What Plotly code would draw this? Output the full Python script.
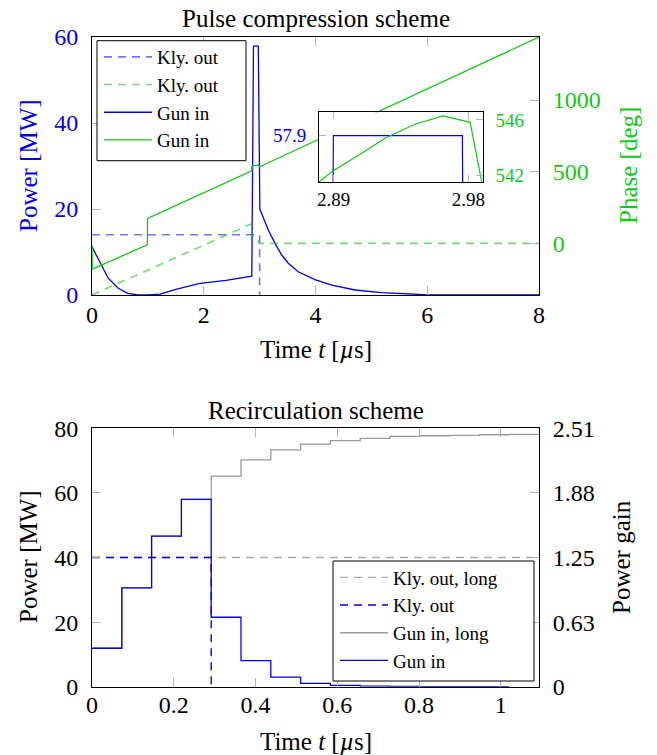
import plotly.graph_objects as go

# ---------------- Data: pulse compression scheme ----------------
kly_t = [0.0, 3.0, 3.0]
kly_power = [14.0, 14.0, 0.0]

kly_phase_t = [0.0, 2.86, 2.865, 2.93, 2.97, 2.99, 3.0, 8.0]
kly_phase = [-360.0, 137.0, 30.0, 27.0, 18.0, 5.0, 0.0, 0.0]

gun_power_t = [0.0, 0.17, 0.29, 0.47, 0.64, 0.82, 1.0, 1.22, 1.5, 1.93, 2.4, 2.86,
               2.8898, 2.976, 3.004, 3.155, 3.275, 3.395, 3.513, 3.69, 3.99, 4.29,
               4.71, 5.18, 5.6, 5.96, 6.5, 8.0]
gun_power = [11.2, 7.0, 3.9, 1.56, 0.4, 0.0, 0.0, 0.2, 1.3, 2.7, 3.4, 4.4,
             57.9, 57.9, 20.0, 15.1, 12.0, 9.3, 7.4, 5.4, 3.6, 2.3,
             1.16, 0.53, 0.23, 0.07, 0.0, 0.0]

gun_phase_t = [0.0, 0.003, 0.99, 0.995, 2.86, 2.862, 2.8802, 2.8898, 2.9076, 2.9255,
               2.9444, 2.963, 2.9812, 2.989, 3.0, 8.0]
gun_phase = [-12.0, -180.0, -10.0, 174.0, 507.0, 537.0, 541.57, 542.36, 543.54, 544.76,
             545.69, 546.29, 545.83, 541.53, 535.0, 1440.0]

top_x_ticks = [0, 2, 4, 6, 8]
top_y_ticks = [0, 20, 40, 60]
top_phase_ticks = [0, 500, 1000]
inset_x_ticks = [2.89, 2.98]
inset_power_ticks = [57.9]
inset_phase_ticks = [542, 546]

# ---------------- Data: recirculation scheme ----------------
bin_t = [0.0, 0.0729, 0.1458, 0.2187, 0.2916, 0.3645, 0.4374, 0.5103, 0.5832,
         0.6561, 0.729, 0.8019, 0.8748, 0.9477, 1.0206, 1.0935]
gun_in_short = [11.9, 30.6, 46.6, 58.0, 21.5, 8.05, 2.95, 1.05, 0.42, 0.17,
                0.07, 0.03, 0.01, 0.0]
gun_in_long = [11.9, 30.6, 46.6, 58.0, 65.2, 70.2, 73.3, 75.1, 76.2, 76.9,
               77.5, 77.7, 77.8, 78.0, 78.1]
kly_short_t = [0.0, 0.2916, 0.2916]
kly_short = [40.0, 40.0, 0.0]
kly_long_t = [0.0, 1.0935]
kly_long = [40.0, 40.0]

bot_x_ticks = [0, 0.2, 0.4, 0.6, 0.8, 1]
bot_y_ticks = [0, 20, 40, 60, 80]
gain_tickvals = [0, 0.6275, 1.255, 1.8825, 2.51]
gain_ticktext = ["0", "0.63", "1.25", "1.88", "2.51"]

# ---------------- Styling ----------------
FONT = "Liberation Serif"
BLUE = "#0000ee"
BLUE_L = "rgba(0,0,238,0.55)"
GREEN = "#14c814"
GREEN_L = "rgba(20,200,20,0.6)"
GRAY = "#9a9a9a"
GRAY_L = "#ababab"
TICKC = "#b4b4b4"
DASH = "8px,6px"
TS = 24      # tick size
AS = 25      # title / axis label size
LS = 19      # legend size
IS = 19      # inset tick size

W, H = 657, 755
def px(x):
    return x / W
def py(y):
    return 1 - y / H

fig = go.Figure()

# top chart traces
fig.add_trace(go.Scatter(x=kly_t, y=kly_power, mode="lines", name="Kly. out",
                         line=dict(color=BLUE_L, width=1.6, dash=DASH),
                         xaxis="x", yaxis="y", legend="legend"))
fig.add_trace(go.Scatter(x=kly_phase_t, y=kly_phase, mode="lines", name="Kly. out",
                         line=dict(color=GREEN_L, width=1.6, dash=DASH),
                         xaxis="x", yaxis="y2", legend="legend"))
fig.add_trace(go.Scatter(x=gun_power_t, y=gun_power, mode="lines", name="Gun in",
                         line=dict(color=BLUE, width=1.3),
                         xaxis="x", yaxis="y", legend="legend"))
fig.add_trace(go.Scatter(x=gun_phase_t, y=gun_phase, mode="lines", name="Gun in",
                         line=dict(color=GREEN, width=1.3),
                         xaxis="x", yaxis="y2", legend="legend"))

# bottom chart traces
fig.add_trace(go.Scatter(x=kly_long_t, y=kly_long, mode="lines", name="Kly. out, long",
                         line=dict(color=GRAY_L, width=1.4, dash=DASH),
                         xaxis="x2", yaxis="y3", legend="legend2"))
fig.add_trace(go.Scatter(x=kly_short_t, y=kly_short, mode="lines", name="Kly. out",
                         line=dict(color=BLUE, width=1.4, dash=DASH),
                         xaxis="x2", yaxis="y3", legend="legend2"))
fig.add_trace(go.Scatter(x=bin_t, y=gun_in_long + [gun_in_long[-1]], mode="lines",
                         name="Gun in, long", line=dict(color=GRAY, width=1.3, shape="hv"),
                         xaxis="x2", yaxis="y3", legend="legend2"))
fig.add_trace(go.Scatter(x=bin_t[:len(gun_in_short) + 1], y=gun_in_short + [gun_in_short[-1]],
                         mode="lines", name="Gun in",
                         line=dict(color=BLUE, width=1.3, shape="hv"),
                         xaxis="x2", yaxis="y3", legend="legend2"))
# anchor trace for the gain axis
fig.add_trace(go.Scatter(x=[0], y=[0], mode="lines", line=dict(width=0),
                         showlegend=False, hoverinfo="skip", xaxis="x2", yaxis="y4"))

# inset traces
fig.add_trace(go.Scatter(x=gun_power_t, y=gun_power, mode="lines", showlegend=False,
                         line=dict(color=BLUE, width=1.2), xaxis="x3", yaxis="y5"))
fig.add_trace(go.Scatter(x=gun_phase_t, y=gun_phase, mode="lines", showlegend=False,
                         line=dict(color=GREEN, width=1.2), xaxis="x3", yaxis="y6"))

main_dom_x = [px(92), px(539)]
top_dom_y = [py(295), py(37)]
bot_dom_y = [py(686.7), py(428.3)]
ins_dom_x = [px(319), px(482.7)]
ins_dom_y = [py(182.3), py(112.3)]

common = dict(showgrid=False, zeroline=False, showline=True, linecolor="black",
              linewidth=1, ticks="inside", tickcolor=TICKC, tickwidth=1, automargin=False)

tick_font = dict(family=FONT, size=TS, color="black")

leg_common = dict(bgcolor="rgba(0,0,0,0)", borderwidth=0,
                  font=dict(family=FONT, size=LS, color="black"),
                  traceorder="normal", itemwidth=48)

# legend frames (white boxes with black border, drawn above the traces)
legend_boxes = [
    dict(type="rect", xref="paper", yref="paper", x0=px(97), x1=px(246),
         y0=py(160.7), y1=py(40.7), line=dict(color="black", width=1),
         fillcolor="white", layer="above"),
    dict(type="rect", xref="paper", yref="paper", x0=px(333), x1=px(534),
         y0=py(681), y1=py(561), line=dict(color="black", width=1),
         fillcolor="white", layer="above"),
]

fig.update_layout(
    width=W, height=H,
    margin=dict(l=0, r=0, t=0, b=0, pad=0, autoexpand=False),
    paper_bgcolor="white", plot_bgcolor="white",
    font=dict(family=FONT, size=TS, color="black"),
    xaxis=dict(domain=main_dom_x, anchor="y", range=[0, 8], tickvals=top_x_ticks,
               mirror="ticks", ticklen=9, tickfont=tick_font, ticklabelstandoff=-2, **common),
    yaxis=dict(domain=top_dom_y, anchor="x", range=[0, 60], tickvals=top_y_ticks,
               ticklen=9, tickfont=dict(family=FONT, size=TS, color=BLUE),
               ticklabelstandoff=8, **common),
    yaxis2=dict(overlaying="y", anchor="x", side="right", range=[-360, 1440],
                tickvals=top_phase_ticks, ticklen=9,
                tickfont=dict(family=FONT, size=TS, color=GREEN),
                ticklabelstandoff=8, **common),
    xaxis2=dict(domain=main_dom_x, anchor="y3", range=[0, 1.0935], tickvals=bot_x_ticks,
                mirror="ticks", ticklen=9, tickfont=tick_font, ticklabelstandoff=-4, **common),
    yaxis3=dict(domain=bot_dom_y, anchor="x2", range=[0, 80], tickvals=bot_y_ticks,
                ticklen=9, tickfont=tick_font, ticklabelstandoff=8, **common),
    yaxis4=dict(overlaying="y3", anchor="x2", side="right", range=[0, 2.51],
                tickvals=gain_tickvals, ticktext=gain_ticktext, ticklen=9,
                tickfont=tick_font, ticklabelstandoff=8, **common),
    xaxis3=dict(domain=ins_dom_x, anchor="y5", range=[2.8802, 2.9896], tickvals=inset_x_ticks,
                mirror="ticks", ticklen=7, tickfont=dict(family=FONT, size=IS, color="black"),
                ticklabelstandoff=0, **common),
    yaxis5=dict(domain=ins_dom_y, anchor="x3", range=[57.6, 58.05], tickvals=inset_power_ticks,
                ticklen=7, tickfont=dict(family=FONT, size=IS, color=BLUE),
                ticklabelstandoff=8, **common),
    yaxis6=dict(overlaying="y5", anchor="x3", side="right", range=[541.53, 546.55],
                tickvals=inset_phase_ticks, ticklen=7,
                tickfont=dict(family=FONT, size=IS, color=GREEN),
                ticklabelstandoff=8, **common),
    legend=dict(x=px(99), y=py(38), xanchor="left", yanchor="top", **leg_common),
    legend2=dict(x=px(335), y=py(558.5), xanchor="left", yanchor="top", **leg_common),
    shapes=legend_boxes,
    showlegend=True,
)

ann = [
    dict(text="Pulse compression scheme", x=px(316), y=py(18), font=dict(size=AS)),
    dict(text="Recirculation scheme", x=px(316), y=py(410), font=dict(size=AS)),
    dict(text="Time <i>t</i> [<i>µ</i>s]", x=px(316), y=py(349), font=dict(size=AS)),
    dict(text="Time <i>t</i> [<i>µ</i>s]", x=px(316), y=py(741), font=dict(size=AS)),
    dict(text="Power [MW]", x=px(28), y=py(166), textangle=-90, font=dict(size=AS, color=BLUE)),
    dict(text="Phase [deg]", x=px(628), y=py(166), textangle=-90, font=dict(size=AS, color=GREEN)),
    dict(text="Power [MW]", x=px(28), y=py(557), textangle=-90, font=dict(size=AS)),
    dict(text="Power gain", x=px(621), y=py(557), textangle=-90, font=dict(size=AS)),
]
for a in ann:
    a.update(xref="paper", yref="paper", showarrow=False, xanchor="center", yanchor="middle")
    a["font"] = dict(family=FONT, **a["font"])
fig.update_layout(annotations=ann)

fig.write_html("out.html",
               post_script="document.body.style.margin='0';document.body.style.padding='0';")
